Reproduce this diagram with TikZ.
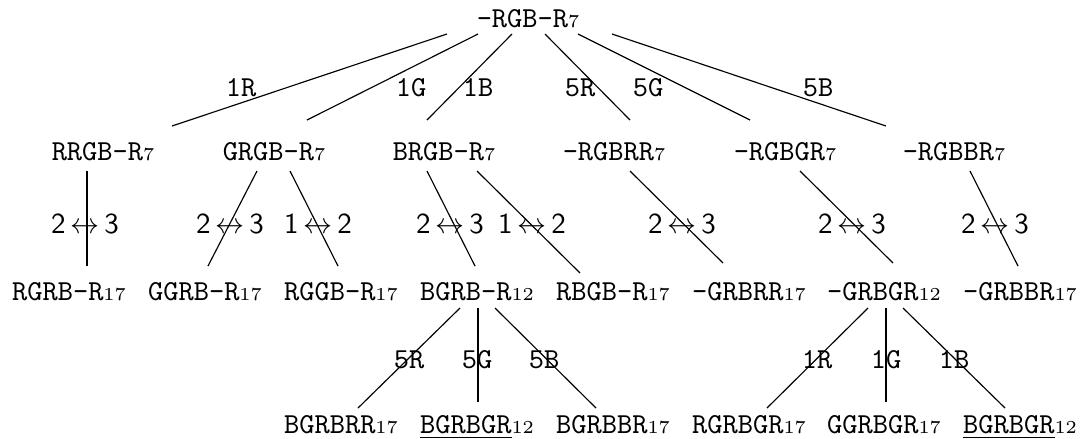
\documentclass[tikz,border=0pt]{standalone}
% small index written after a state, sitting near the baseline
\newcommand{\idx}[1]{\raisebox{-0.3pt}{\fontsize{6.3}{7}\selectfont\rmfamily #1}}
\newcommand{\swp}[2]{\textsf{#1}\,$\leftrightarrow$\,\textsf{#2}}
\begin{document}
\begin{tikzpicture}[x=0.345pt,y=-0.345pt,
  state/.style={inner sep=0pt,anchor=base,font=\ttfamily},
  move/.style={inner sep=0pt,anchor=base,font=\ttfamily},
  swap/.style={inner sep=0pt,anchor=base},
  link/.style={line width=0.4pt}]
\useasboundingbox (0,0) rectangle (1083,438);

% root
\node[state] (r) at (528,27) {-RGB-R\idx{7}};

% first level
\node[state] (a1) at (103,160) {RRGB-R\idx{7}};
\node[state] (a2) at (274,160) {GRGB-R\idx{7}};
\node[state] (a3) at (444,160) {BRGB-R\idx{7}};
\node[state] (a4) at (614,160) {-RGBRR\idx{7}};
\node[state] (a5) at (785,160) {-RGBGR\idx{7}};
\node[state] (a6) at (954,160) {-RGBBR\idx{7}};

% second level
\node[state] (b1) at (69,300)   {RGRB-R\idx{17}};
\node[state] (b2) at (205,300)  {GGRB-R\idx{17}};
\node[state] (b3) at (341,300)  {RGGB-R\idx{17}};
\node[state] (b4) at (477,300)  {BGRB-R\idx{12}};
\node[state] (b5) at (613,300)  {RBGB-R\idx{17}};
\node[state] (b6) at (749,300)  {-GRBRR\idx{17}};
\node[state] (b7) at (884,300)  {-GRBGR\idx{12}};
\node[state] (b8) at (1020,300) {-GRBBR\idx{17}};

% third level
\node[state] (c1) at (341,433)  {BGRBRR\idx{17}};
\node[state] (c2) at (477,433)  {\underline{BGRBGR}\idx{12}};
\node[state] (c3) at (613,433)  {BGRBBR\idx{17}};
\node[state] (c4) at (749,433)  {RGRBGR\idx{17}};
\node[state] (c5) at (884,433)  {GGRBGR\idx{17}};
\node[state] (c6) at (1020,433) {\underline{BGRBGR}\idx{12}};

% root -> first level
\draw[link] ([shift={(-81,7)}]r.base) -- ([shift={(69,-34)}]a1.base);
\draw[link] ([shift={(-50,7)}]r.base) -- ([shift={(33,-40)}]a2.base);
\draw[link] ([shift={(-16,7)}]r.base) -- ([shift={(-17,-40)}]a3.base);
\draw[link] ([shift={(17,7)}]r.base)  -- ([shift={(16,-40)}]a4.base);
\draw[link] ([shift={(50,7)}]r.base)  -- ([shift={(-35,-40)}]a5.base);
\draw[link] ([shift={(84,7)}]r.base)  -- ([shift={(-68,-34)}]a6.base);

\node[move] (m1) at (241,96) {1R};
\node[move] (m2) at (411,96) {1G};
\node[move] (m3) at (478,96) {1B};
\node[move] (m4) at (580,96) {5R};
\node[move] (m5) at (648,96) {5G};
\node[move] (m6) at (818,96) {5B};

% first level -> second level
\draw[link] ([shift={(-16,11)}]a1.base) -- ([shift={(18,-34)}]b1.base);
\draw[link] ([shift={(-17,11)}]a2.base) -- ([shift={(3,-34)}]b2.base);
\draw[link] ([shift={(16,11)}]a2.base)  -- ([shift={(-3,-34)}]b3.base);
\draw[link] ([shift={(-17,11)}]a3.base) -- ([shift={(-2,-34)}]b4.base);
\draw[link] ([shift={(33,11)}]a3.base)  -- ([shift={(-33,-27)}]b5.base);
\draw[link] ([shift={(16,11)}]a4.base)  -- ([shift={(-26,-37)}]b6.base);
\draw[link] ([shift={(15,11)}]a5.base)  -- ([shift={(9,-37)}]b7.base);
\draw[link] ([shift={(16,11)}]a6.base)  -- ([shift={(-2,-34)}]b8.base);

\node[swap] (s1) at (85,233)  {\swp{2}{3}};
\node[swap] (s2) at (230,233) {\swp{2}{3}};
\node[swap] (s3) at (318,233) {\swp{1}{2}};
\node[swap] (s4) at (450,233) {\swp{2}{3}};
\node[swap] (s5) at (532,233) {\swp{1}{2}};
\node[swap] (s6) at (682,233) {\swp{2}{3}};
\node[swap] (s7) at (852,233) {\swp{2}{3}};
\node[swap] (s8) at (995,233) {\swp{2}{3}};

% second level -> third level
\draw[link] ([shift={(-17,8)}]b4.base) -- ([shift={(17,-25)}]c1.base);
\draw[link] ([shift={(1,8)}]b4.base)   -- ([shift={(1,-31)}]c2.base);
\draw[link] ([shift={(18,8)}]b4.base)  -- ([shift={(-17,-25)}]c3.base);
\draw[link] ([shift={(-16,8)}]b7.base) -- ([shift={(18,-25)}]c4.base);
\draw[link] ([shift={(2,8)}]b7.base)   -- ([shift={(2,-31)}]c5.base);
\draw[link] ([shift={(19,8)}]b7.base)  -- ([shift={(-15,-25)}]c6.base);

\node[move] (n1) at (409,368) {5R};
\node[move] (n2) at (477,368) {5G};
\node[move] (n3) at (544,368) {5B};
\node[move] (n4) at (817,368) {1R};
\node[move] (n5) at (886,368) {1G};
\node[move] (n6) at (954,368) {1B};
\end{tikzpicture}
\end{document}
